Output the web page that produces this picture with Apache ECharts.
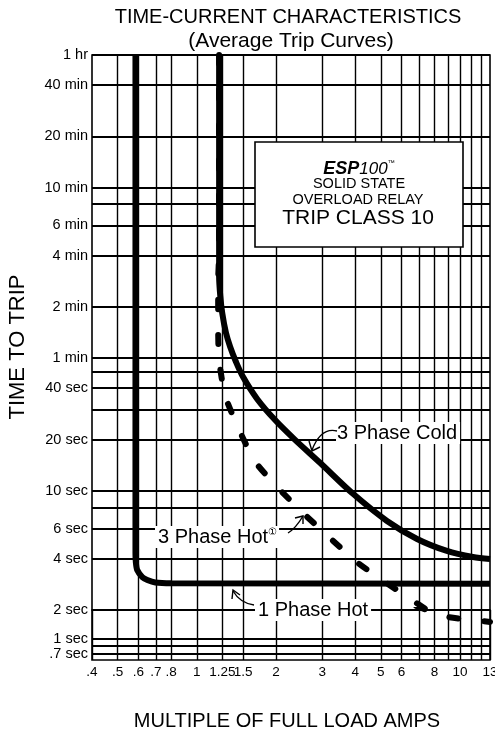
<!DOCTYPE html>
<html><head><meta charset="utf-8">
<script src="https://cdn.jsdelivr.net/npm/echarts@6/dist/echarts.min.js"></script>
<style>html,body{margin:0;padding:0;background:#fff}#c{width:495px;height:732px}</style>
</head><body><div id="c"></div>
<script>
// ---- data ----
const xGridValues = [0.5, 0.6, 0.7, 0.8, 1, 1.25, 1.5, 2, 3, 4, 5, 6, 7, 8, 9, 10, 11, 12];
const xTickValues = [0.4, 0.5, 0.6, 0.7, 0.8, 1, 1.25, 1.5, 2, 3, 4, 5, 6, 8, 10, 13];
const xTickLabels = ['.4', '.5', '.6', '.7', '.8', '1', '1.25', '1.5', '2', '3', '4', '5', '6', '8', '10', '13'];
// seconds
const yGridValues = [3600, 2400, 1200, 600, 480, 360, 240, 120, 60, 50, 40, 30, 20, 10, 8, 6, 4, 2, 1, 0.85, 0.7];
const yTickValues = [3600, 2400, 1200, 600, 360, 240, 120, 60, 40, 20, 10, 6, 4, 2, 1, 0.7];
const yTickLabels = ['1 hr', '40 min', '20 min', '10 min', '6 min', '4 min', '2 min', '1 min', '40 sec', '20 sec', '10 sec', '6 sec', '4 sec', '2 sec', '1 sec', '.7 sec'];

const onePhaseHot = [[0.585, 3600], [0.585, 4.3], [0.587, 3.8], [0.594, 3.43], [0.621, 3.12], [0.649, 3.0], [0.696, 2.9], [0.8, 2.87], [13, 2.85]];
const threePhaseCold = [[1.216, 3600], [1.216, 180], [1.228, 140], [1.25, 110], [1.29, 85], [1.339, 70], [1.41, 57], [1.5, 46.5], [1.696, 34.6], [1.985, 26.0], [2.363, 19.9], [2.94, 14.6], [3.924, 9.6], [5.28, 6.66], [6.87, 5.22], [8.92, 4.44], [11.2, 4.09], [13, 3.98]];
const threePhaseHot = [[1.216, 3600], [1.216, 250], [1.206, 172], [1.206, 88], [1.216, 58.5], [1.282, 36], [1.462, 22.1], [1.667, 14.8], [2.037, 10.4], [2.535, 7.41], [3.267, 5.15], [4.1, 3.77], [5.19, 2.92], [6.74, 2.23], [9.0, 1.69], [12.22, 1.53], [13, 1.5]];

// ---- chart ----
const FONT = '"Liberation Sans", Arial, Helvetica, sans-serif';
const chart = echarts.init(document.getElementById('c'));

function gridLineSeries(idx, yVals, xVals, showXLabels) {
  const items = [];
  yVals.forEach(v => {
    const i = yTickValues.indexOf(v);
    items.push({
      yAxis: v,
      lineStyle: { width: 1.8 },
      label: i >= 0 ? { show: true, formatter: yTickLabels[i], position: 'start', distance: 4, color: '#000', fontSize: 14.5, fontFamily: FONT } : { show: false }
    });
  });
  xVals.forEach(v => {
    const i = xTickValues.indexOf(v);
    items.push({
      xAxis: v,
      label: (showXLabels && i >= 0) ? { show: true, formatter: xTickLabels[i], position: 'start', distance: 5, color: '#000', fontSize: 13.5, fontFamily: FONT } : { show: false }
    });
  });
  return {
    type: 'line', xAxisIndex: idx, yAxisIndex: idx, data: [], silent: true, z: 1,
    markLine: {
      silent: true, symbol: ['none', 'none'], animation: false,
      lineStyle: { color: '#000', width: 1.4, type: 'solid' },
      emphasis: { disabled: true },
      data: items
    }
  };
}

function curve(name, data, idx, lineStyle, smooth) {
  return {
    type: 'line', name, data, xAxisIndex: idx, yAxisIndex: idx,
    showSymbol: false, symbol: 'none', smooth, clip: true, silent: true, z: 3,
    lineStyle: Object.assign({ color: '#000' }, lineStyle)
  };
}

const upperY = yGridValues.filter(v => v >= 2);
const lowerY = yGridValues.filter(v => v < 2);
const lowerX = Array.from(new Set([...xTickValues, ...xGridValues])).sort((a, b) => a - b);

const hidden = { axisLine: { show: false }, axisTick: { show: false }, axisLabel: { show: false }, splitLine: { show: false } };
const dashStyle = { width: 6, type: [9, 26], cap: 'round' };

const option = {
  animation: false,
  backgroundColor: '#fff',
  grid: [
    { left: 92, right: 5, top: 55, height: 555, show: true, borderColor: '#000', borderWidth: 1.6, backgroundColor: 'transparent' },
    { left: 92, right: 5, top: 610, height: 50, show: true, borderColor: '#000', borderWidth: 1.6, backgroundColor: 'transparent' }
  ],
  xAxis: [
    Object.assign({ type: 'log', gridIndex: 0, min: 0.4, max: 13 }, hidden),
    Object.assign({ type: 'log', gridIndex: 1, min: 0.4, max: 13 }, hidden)
  ],
  yAxis: [
    Object.assign({ type: 'log', gridIndex: 0, min: 2, max: 3600 }, hidden),
    Object.assign({ type: 'log', gridIndex: 1, min: 0.6, max: 2 }, hidden)
  ],
  series: [
    gridLineSeries(0, upperY, xGridValues, false),
    gridLineSeries(1, lowerY, lowerX, true),
    curve('1 Phase Hot', onePhaseHot, 0, { width: 6 }, 0.2),
    curve('3 Phase Cold', threePhaseCold, 0, { width: 6 }, 0.3),
    curve('3 Phase Hot', threePhaseHot, 0, dashStyle, 0.2),
    curve('3 Phase Hot', threePhaseHot, 1, dashStyle, 0.2)
  ],
  graphic: [
    { type: 'text', z: 100, x: 288, y: 17, style: { text: 'TIME-CURRENT CHARACTERISTICS', fontSize: 20, fontFamily: FONT, fill: '#000', align: 'center', verticalAlign: 'middle' } },
    { type: 'text', z: 100, x: 291, y: 41, style: { text: '(Average Trip Curves)', fontSize: 21, fontFamily: FONT, fill: '#000', align: 'center', verticalAlign: 'middle' } },
    { type: 'text', z: 100, x: 18, y: 347, rotation: Math.PI / 2, style: { text: 'TIME TO TRIP', fontSize: 22, fontFamily: FONT, fill: '#000', align: 'center', verticalAlign: 'middle' } },
    { type: 'text', z: 100, x: 287, y: 721, style: { text: 'MULTIPLE OF FULL LOAD AMPS', fontSize: 20, fontFamily: FONT, fill: '#000', align: 'center', verticalAlign: 'middle' } },
    // legend box
    { type: 'rect', z: 100, shape: { x: 255, y: 142, width: 208, height: 105 }, style: { fill: '#fff', stroke: '#000', lineWidth: 1.6 } },
    { type: 'text', z: 101, x: 359, y: 169, style: { text: '{a|ESP}{b|100}{c|™}', fontFamily: FONT, fill: '#000', align: 'center', verticalAlign: 'middle',
        rich: { a: { fontSize: 18, fontWeight: 'bold', fontStyle: 'italic', fontFamily: FONT }, b: { fontSize: 17, fontStyle: 'italic', fontFamily: FONT }, c: { fontSize: 7, verticalAlign: 'top', fontFamily: FONT } } } },
    { type: 'text', z: 101, x: 359, y: 184, style: { text: 'SOLID STATE', fontSize: 14.5, fontFamily: FONT, fill: '#000', align: 'center', verticalAlign: 'middle' } },
    { type: 'text', z: 101, x: 358, y: 200, style: { text: 'OVERLOAD RELAY', fontSize: 14.5, fontFamily: FONT, fill: '#000', align: 'center', verticalAlign: 'middle' } },
    { type: 'text', z: 101, x: 358, y: 218, style: { text: 'TRIP CLASS 10', fontSize: 21, fontFamily: FONT, fill: '#000', align: 'center', verticalAlign: 'middle' } },
    // 3 Phase Cold label + arrow
    { type: 'text', z: 100, x: 336, y: 433, style: { text: '3 Phase Cold', fontSize: 20, fontFamily: FONT, fill: '#000', align: 'left', verticalAlign: 'middle', backgroundColor: '#fff', padding: [1, 3, 1, 1] } },
    { type: 'bezierCurve', z: 100, shape: { x1: 337, y1: 431, cpx1: 321, cpy1: 427, x2: 312, y2: 450 }, style: { stroke: '#000', lineWidth: 1.4, fill: null } },
    { type: 'polyline', z: 100, shape: { points: [[309, 441], [312, 451], [320, 447]] }, style: { stroke: '#000', lineWidth: 1.4, fill: null } },
    // 3 Phase Hot label + arrow
    { type: 'text', z: 100, x: 155, y: 537, style: { text: '{t|3 Phase Hot}{s|①}', fontFamily: FONT, fill: '#000', align: 'left', verticalAlign: 'middle', backgroundColor: '#fff', padding: [1, 2, 1, 3],
        rich: { t: { fontSize: 20, fontFamily: FONT }, s: { fontSize: 10, verticalAlign: 'top', fontFamily: FONT } } } },
    { type: 'bezierCurve', z: 100, shape: { x1: 288, y1: 533, cpx1: 296, cpy1: 528, x2: 303, y2: 516 }, style: { stroke: '#000', lineWidth: 1.4, fill: null } },
    { type: 'polyline', z: 100, shape: { points: [[295, 518], [303, 516], [303, 524]] }, style: { stroke: '#000', lineWidth: 1.4, fill: null } },
    // 1 Phase Hot label + arrow
    { type: 'text', z: 100, x: 255, y: 610, style: { text: '1 Phase Hot', fontSize: 20, fontFamily: FONT, fill: '#000', align: 'left', verticalAlign: 'middle', backgroundColor: '#fff', padding: [1, 3, 1, 3] } },
    { type: 'line', z: 100, shape: { x1: 372, y1: 610, x2: 381, y2: 610 }, style: { stroke: '#000', lineWidth: 1.4 } },
    { type: 'bezierCurve', z: 100, shape: { x1: 254, y1: 605, cpx1: 240, cpy1: 603, x2: 233, y2: 591 }, style: { stroke: '#000', lineWidth: 1.4, fill: null } },
    { type: 'polyline', z: 100, shape: { points: [[232, 599], [233, 590], [240, 595]] }, style: { stroke: '#000', lineWidth: 1.4, fill: null } }
  ]
};
chart.setOption(option);
</script>
</body></html>
